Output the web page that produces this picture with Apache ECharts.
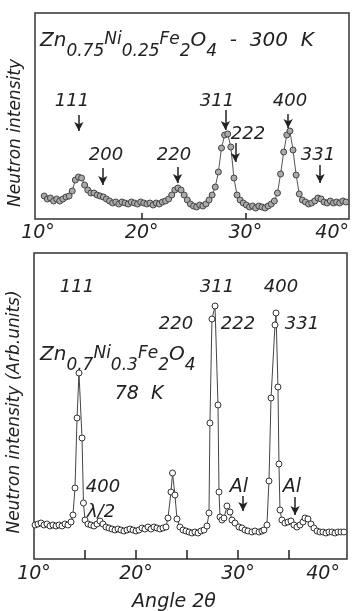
<!DOCTYPE html>
<html>
<head>
<meta charset="utf-8">
<script src="https://cdn.jsdelivr.net/npm/echarts@6/dist/echarts.min.js"></script>
<style>
html,body{margin:0;padding:0;background:#fff;}
#c{width:352px;height:611px;}
</style>
</head>
<body>
<div id="c"></div>
<script>
// ---- data (angle 2θ in degrees, intensity in arbitrary units) ----
const topAngle = [10.6,10.9,11.2,11.5,11.8,12.1,12.4,12.7,13.0,13.3,13.6,13.9,14.2,14.5,14.8,15.1,15.4,15.7,16.0,16.3,16.6,16.9,17.2,17.5,17.8,18.1,18.4,18.7,19.0,19.3,19.6,19.9,20.2,20.5,20.8,21.1,21.4,21.7,22.0,22.3,22.6,22.9,23.2,23.5,23.8,24.1,24.4,24.7,25.0,25.3,25.6,25.9,26.2,26.5,26.8,27.1,27.4,27.7,28.0,28.3,28.6,28.9,29.2,29.5,29.8,30.1,30.4,30.7,31.0,31.3,31.6,31.9,32.2,32.5,32.8,33.1,33.4,33.7,34.0,34.3,34.6,34.9,35.2,35.5,35.8,36.1,36.4,36.7,37.0,37.3,37.6,37.9,38.2,38.5,38.8,39.1,39.4,39.7];
const topIntensity = [23,20,21,18,20,18,20,22,23,28,39,42,41,34,29,26,26,24,23,22,20,18,16,17,15,17,16,15,17,16,15,17,16,15,16,14,16,15,17,18,20,24,29,31,29,24,19,15,13,12,14,13,15,19,24,32,47,71,84,85,72,41,24,19,16,14,12,13,11,13,12,11,13,15,18,26,45,67,84,88,69,44,25,19,17,15,16,18,21,20,17,16,18,16,17,16,18,17];

const botAngle = [10.10,10.39,10.69,10.98,11.27,11.57,11.86,12.16,12.45,12.75,13.04,13.33,13.63,13.82,14.02,14.22,14.41,14.71,14.85,15.00,15.29,15.59,15.88,16.18,16.47,16.76,17.06,17.35,17.65,17.94,18.24,18.53,18.82,19.12,19.41,19.71,20.00,20.29,20.59,20.88,21.18,21.47,21.76,22.06,22.35,22.65,22.94,23.14,23.43,23.58,23.82,24.02,24.31,24.61,24.90,25.20,25.49,25.78,26.08,26.37,26.67,26.96,27.16,27.25,27.45,27.75,28.04,28.14,28.24,28.43,28.63,28.92,29.22,29.41,29.71,30.10,30.39,30.69,30.98,31.37,31.67,32.06,32.35,32.55,32.84,33.04,33.24,33.63,33.73,33.92,34.02,34.12,34.31,34.61,34.90,35.20,35.49,35.78,36.08,36.37,36.57,36.86,37.16,37.45,37.75,38.04,38.33,38.63,38.92,39.22,39.51,39.80,40.10,40.39];
const botIntensity = [34,35,36,34,35,33,34,33,34,33,35,34,37,44,71,141,186,121,56,39,35,34,33,35,38,35,32,31,30,29,30,29,28,29,30,29,28,29,31,30,32,30,32,31,30,31,32,41,67,86,64,40,32,29,28,27,26,27,26,28,29,33,46,136,240,253,154,67,42,39,41,53,47,39,36,32,31,29,28,27,28,27,28,29,34,78,161,234,246,172,95,49,39,36,37,38,34,32,34,37,41,40,35,31,28,27,27,26,27,27,26,27,27,27];

const xLabelValues = [10, 20, 30, 40];
const topTickValues = [20, 30];
const botTickValues = [15, 20, 25, 30, 35];

// reflection labels with arrow positions [angle, from, to]
const topPeakNames = ['111','200','220','311','222','400','331'];
const topArrows = [[13.94,104,88],[16.25,51,34],[23.46,52,36],[28.08,109,89],[29.04,76,57],[34.13,105,91],[37.21,54,36]];
const botPeakNames = ['111','311','400','220','222','331'];
const botArrows = [[30.49,63,48],[35.6,62,44]];

const FF = 'DejaVu Sans';
const chart = echarts.init(document.getElementById('c'), null, {renderer:'canvas'});

function axisX(gridIndex, min, max, ticks, margin, tickLen, name) {
  return {
    type:'value', gridIndex, min, max,
    axisLine:{show:false},
    splitLine:{show:false},
    axisTick:{show:true, inside:true, length:tickLen, customValues:ticks, lineStyle:{color:'#222', width:1.5}},
    axisLabel:{show:true, customValues:xLabelValues, margin, formatter:'{value}°',
      alignMaxLabel:'right', hideOverlap:false,
      fontFamily:FF, fontStyle:'italic', fontSize:19, color:'#222'},
    name: name || '', nameLocation:'middle', nameGap:34,
    nameTextStyle:{fontFamily:FF, fontStyle:'italic', fontSize:19, color:'#222', padding:[0,33,0,0]}
  };
}
function axisY(gridIndex, max, name, pad) {
  return {
    type:'value', gridIndex, min:0, max,
    axisLine:{show:false}, axisTick:{show:false}, axisLabel:{show:false}, splitLine:{show:false},
    name, nameLocation:'middle', nameRotate:90, nameGap:11,
    nameTextStyle:{fontFamily:FF, fontStyle:'italic', fontSize:17, color:'#222', padding:[0,pad,0,0]}
  };
}
function arrowLines(list) {
  return list.map(a => [{coord:[a[0], a[1]]}, {coord:[a[0], a[2]]}]);
}

const rich = {
  m:{fontFamily:FF, fontStyle:'italic', fontSize:20, verticalAlign:'top', fill:'#222', color:'#222'},
  n:{fontFamily:FF, fontStyle:'italic', fontSize:17, verticalAlign:'top', fill:'#222', color:'#222'},
  s:{fontFamily:FF, fontStyle:'italic', fontSize:17, verticalAlign:'top', padding:[12,0,0,0], fill:'#222', color:'#222'}
};

function label(x, y, text, size) {
  return {type:'text', x, y, silent:true,
    style:{text, fontFamily:FF, fontStyle:'italic', fontSize:size||18, fill:'#222',
      align:'center', verticalAlign:'middle', textAlign:'center', textVerticalAlign:'middle'}};
}

const graphics = [
  {type:'text', left:40, top:31, silent:true,
    style:{text:'{m|Zn}{s|0.75}{n|Ni}{s|0.25}{n|Fe}{s|2}{m|O}{s|4}{m|  -  300  K}', rich, fill:'#222'}},
  {type:'text', left:40, top:345, silent:true,
    style:{text:'{m|Zn}{s|0.7}{n|Ni}{s|0.3}{n|Fe}{s|2}{m|O}{s|4}', rich, fill:'#222'}},
  label(139, 394, '78  K', 19),
  label(72,101,topPeakNames[0]), label(106,155,topPeakNames[1]), label(174,155,topPeakNames[2]),
  label(217,101,topPeakNames[3]), label(248,134,topPeakNames[4]), label(290,101,topPeakNames[5]),
  label(318,155,topPeakNames[6]),
  label(77,287,botPeakNames[0]), label(217,287,botPeakNames[1]), label(281,287,botPeakNames[2]),
  label(176,324,botPeakNames[3]), label(238,324,botPeakNames[4]), label(302,324,botPeakNames[5]),
  label(103,487,'400'), label(101,512,'λ/2'),
  label(239,487,'Al',19), label(292,487,'Al',19)
];

const option = {
  animation:false,
  backgroundColor:'#fff',
  grid:[
    {left:35, top:13, width:314, height:206, show:true, borderColor:'#333', borderWidth:1.5, backgroundColor:'transparent', outerBoundsMode:'none', containLabel:false},
    {left:34, top:253, width:313, height:306, show:true, borderColor:'#333', borderWidth:1.5, backgroundColor:'transparent', outerBoundsMode:'none', containLabel:false}
  ],
  xAxis:[
    axisX(0, 9.71, 40, topTickValues, 5, 6),
    axisX(1, 10, 40.69, botTickValues, 6, 9, 'Angle 2θ')
  ],
  yAxis:[
    axisY(0, 206, 'Neutron intensity', 34),
    axisY(1, 306, 'Neutron intensity (Arb.units)', 12)
  ],
  series:[
    {type:'line', xAxisIndex:0, yAxisIndex:0,
      data: topAngle.map((a,i)=>[a, topIntensity[i]]),
      symbol:'circle', symbolSize:6, showAllSymbol:true,
      lineStyle:{color:'#555', width:1},
      itemStyle:{color:'#aaa', borderColor:'#444', borderWidth:1},
      markLine:{silent:true, symbol:['none','arrow'], symbolSize:[7,9], label:{show:false},
        lineStyle:{color:'#222', width:1.5, type:'solid'}, data: arrowLines(topArrows)}},
    {type:'line', xAxisIndex:1, yAxisIndex:1,
      data: botAngle.map((a,i)=>[a, botIntensity[i]]),
      symbol:'circle', symbolSize:6, showAllSymbol:true,
      lineStyle:{color:'#444', width:1},
      itemStyle:{color:'#fff', borderColor:'#333', borderWidth:1},
      markLine:{silent:true, symbol:['none','arrow'], symbolSize:[7,9], label:{show:false},
        lineStyle:{color:'#222', width:1.5, type:'solid'}, data: arrowLines(botArrows)}}
  ],
  graphic: graphics
};
chart.setOption(option);
</script>
</body>
</html>
